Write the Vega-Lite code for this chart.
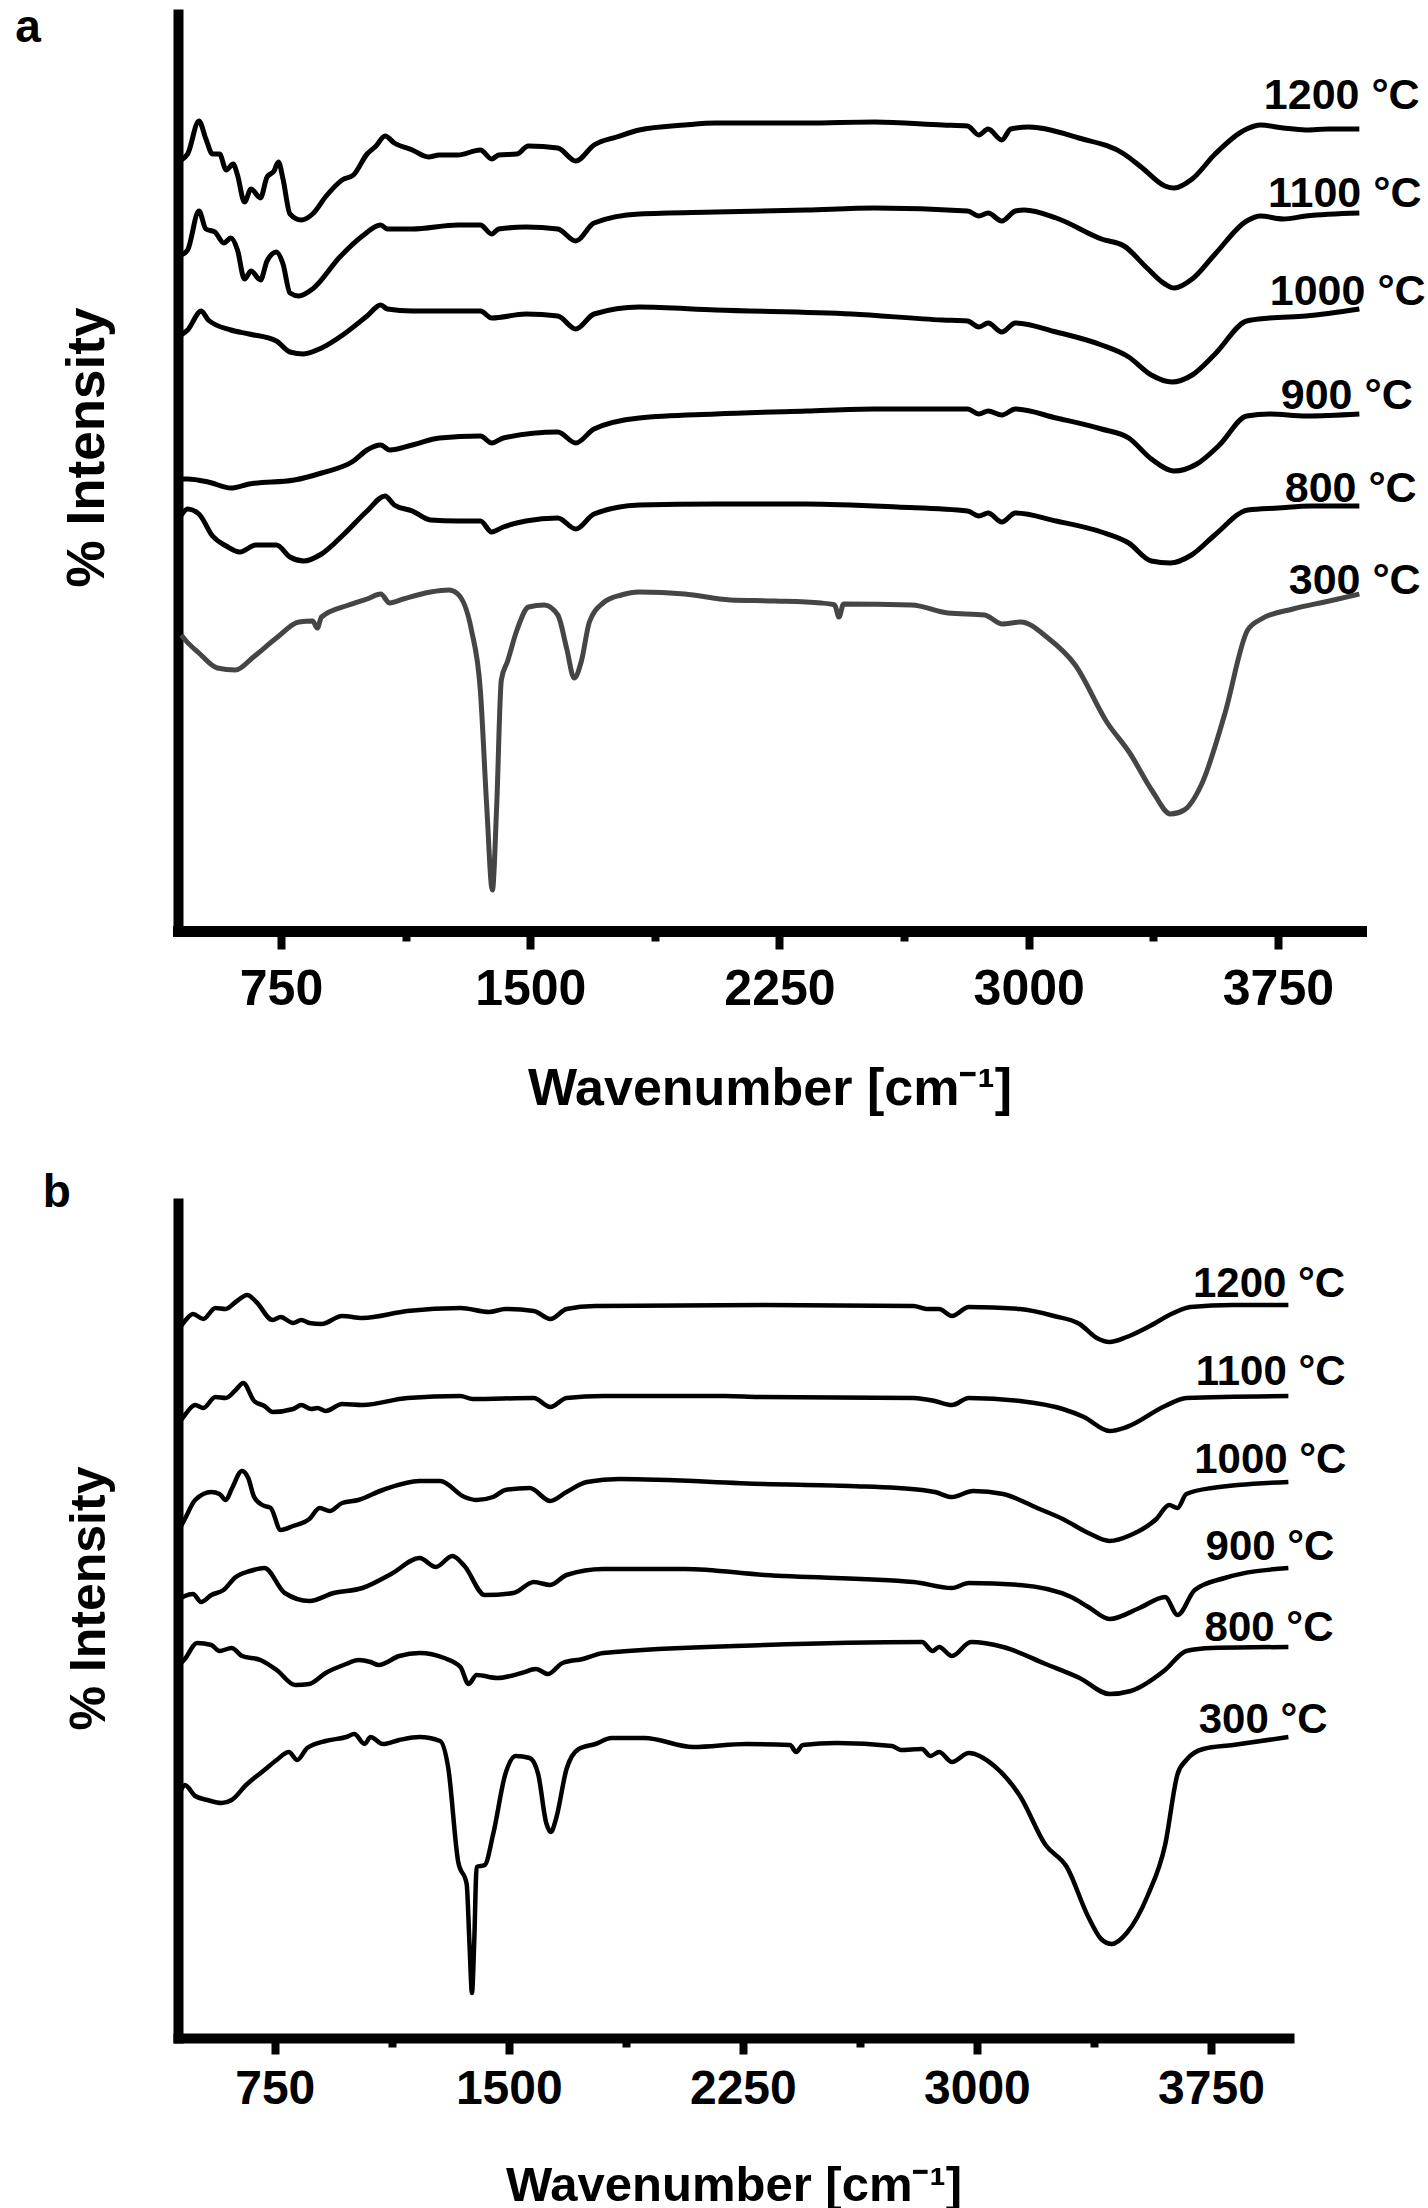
{
  "$schema": "https://vega.github.io/schema/vega-lite/v6.json",
  "description": "FTIR spectra of samples calcined at 300-1200 °C, two panels",
  "padding": {"left": 15, "top": 5, "right": 0, "bottom": 0},
  "spacing": 56,
  "config": {
    "view": {"stroke": null},
    "font": "Liberation Sans",
    "axis": {"grid": false, "domainColor": "black", "tickColor": "black", "labelColor": "black", "titleColor": "black", "labelFontWeight": "bold", "titleFontWeight": "bold", "domainCap": "square"}
  },
  "datasets": {
    "a": [
      {"s":"1200 °C","w":450,"v":760},{"s":"1200 °C","w":469,"v":766},{"s":"1200 °C","w":503,"v":799},{"s":"1200 °C","w":524,"v":781},{"s":"1200 °C","w":544,"v":766},{"s":"1200 °C","w":565,"v":766},{"s":"1200 °C","w":585,"v":750},{"s":"1200 °C","w":606,"v":756},{"s":"1200 °C","w":619,"v":745},{"s":"1200 °C","w":640,"v":718},{"s":"1200 °C","w":660,"v":731},{"s":"1200 °C","w":688,"v":722},{"s":"1200 °C","w":708,"v":743},{"s":"1200 °C","w":729,"v":749},{"s":"1200 °C","w":742,"v":758},{"s":"1200 °C","w":756,"v":741},{"s":"1200 °C","w":777,"v":706},{"s":"1200 °C","w":811,"v":700},{"s":"1200 °C","w":845,"v":706},{"s":"1200 °C","w":886,"v":724},{"s":"1200 °C","w":934,"v":740},{"s":"1200 °C","w":968,"v":745},{"s":"1200 °C","w":1009,"v":766},{"s":"1200 °C","w":1036,"v":774},{"s":"1200 °C","w":1063,"v":784},{"s":"1200 °C","w":1091,"v":777},{"s":"1200 °C","w":1145,"v":770},{"s":"1200 °C","w":1193,"v":763},{"s":"1200 °C","w":1227,"v":765},{"s":"1200 °C","w":1282,"v":765},{"s":"1200 °C","w":1350,"v":770},{"s":"1200 °C","w":1384,"v":761},{"s":"1200 °C","w":1405,"v":765},{"s":"1200 °C","w":1460,"v":766},{"s":"1200 °C","w":1494,"v":774},{"s":"1200 °C","w":1583,"v":772},{"s":"1200 °C","w":1637,"v":759},{"s":"1200 °C","w":1692,"v":775},{"s":"1200 °C","w":1760,"v":783},{"s":"1200 °C","w":1828,"v":790},{"s":"1200 °C","w":1965,"v":795},{"s":"1200 °C","w":2058,"v":797},{"s":"1200 °C","w":2331,"v":797},{"s":"1200 °C","w":2536,"v":798},{"s":"1200 °C","w":2741,"v":795},{"s":"1200 °C","w":2816,"v":794},{"s":"1200 °C","w":2850,"v":785},{"s":"1200 °C","w":2878,"v":791},{"s":"1200 °C","w":2919,"v":780},{"s":"1200 °C","w":2946,"v":791},{"s":"1200 °C","w":3000,"v":793},{"s":"1200 °C","w":3151,"v":782},{"s":"1200 °C","w":3287,"v":766},{"s":"1200 °C","w":3342,"v":752},{"s":"1200 °C","w":3410,"v":734},{"s":"1200 °C","w":3438,"v":732},{"s":"1200 °C","w":3492,"v":741},{"s":"1200 °C","w":3561,"v":766},{"s":"1200 °C","w":3656,"v":791},{"s":"1200 °C","w":3697,"v":795},{"s":"1200 °C","w":3766,"v":792},{"s":"1200 °C","w":3834,"v":790},{"s":"1200 °C","w":3902,"v":791},{"s":"1200 °C","w":3995,"v":791},
      {"s":"1100 °C","w":450,"v":665},{"s":"1100 °C","w":469,"v":670},{"s":"1100 °C","w":503,"v":709},{"s":"1100 °C","w":524,"v":691},{"s":"1100 °C","w":551,"v":688},{"s":"1100 °C","w":578,"v":677},{"s":"1100 °C","w":599,"v":682},{"s":"1100 °C","w":619,"v":670},{"s":"1100 °C","w":640,"v":641},{"s":"1100 °C","w":660,"v":649},{"s":"1100 °C","w":688,"v":640},{"s":"1100 °C","w":708,"v":659},{"s":"1100 °C","w":736,"v":668},{"s":"1100 °C","w":756,"v":656},{"s":"1100 °C","w":777,"v":627},{"s":"1100 °C","w":804,"v":624},{"s":"1100 °C","w":845,"v":631},{"s":"1100 °C","w":927,"v":663},{"s":"1100 °C","w":995,"v":684},{"s":"1100 °C","w":1050,"v":695},{"s":"1100 °C","w":1070,"v":691},{"s":"1100 °C","w":1145,"v":691},{"s":"1100 °C","w":1282,"v":695},{"s":"1100 °C","w":1350,"v":695},{"s":"1100 °C","w":1384,"v":686},{"s":"1100 °C","w":1405,"v":691},{"s":"1100 °C","w":1487,"v":693},{"s":"1100 °C","w":1583,"v":691},{"s":"1100 °C","w":1637,"v":679},{"s":"1100 °C","w":1692,"v":697},{"s":"1100 °C","w":1828,"v":706},{"s":"1100 °C","w":2058,"v":708},{"s":"1100 °C","w":2331,"v":710},{"s":"1100 °C","w":2536,"v":712},{"s":"1100 °C","w":2816,"v":709},{"s":"1100 °C","w":2850,"v":704},{"s":"1100 °C","w":2878,"v":707},{"s":"1100 °C","w":2919,"v":699},{"s":"1100 °C","w":2960,"v":709},{"s":"1100 °C","w":2987,"v":710},{"s":"1100 °C","w":3083,"v":702},{"s":"1100 °C","w":3219,"v":681},{"s":"1100 °C","w":3287,"v":674},{"s":"1100 °C","w":3356,"v":652},{"s":"1100 °C","w":3410,"v":636},{"s":"1100 °C","w":3438,"v":632},{"s":"1100 °C","w":3492,"v":641},{"s":"1100 °C","w":3561,"v":666},{"s":"1100 °C","w":3656,"v":699},{"s":"1100 °C","w":3697,"v":704},{"s":"1100 °C","w":3766,"v":701},{"s":"1100 °C","w":3834,"v":704},{"s":"1100 °C","w":3995,"v":707},
      {"s":"1000 °C","w":450,"v":585},{"s":"1000 °C","w":469,"v":590},{"s":"1000 °C","w":510,"v":609},{"s":"1000 °C","w":531,"v":600},{"s":"1000 °C","w":599,"v":590},{"s":"1000 °C","w":654,"v":586},{"s":"1000 °C","w":736,"v":579},{"s":"1000 °C","w":777,"v":568},{"s":"1000 °C","w":818,"v":566},{"s":"1000 °C","w":872,"v":572},{"s":"1000 °C","w":940,"v":586},{"s":"1000 °C","w":1009,"v":604},{"s":"1000 °C","w":1050,"v":615},{"s":"1000 °C","w":1070,"v":611},{"s":"1000 °C","w":1145,"v":609},{"s":"1000 °C","w":1350,"v":609},{"s":"1000 °C","w":1384,"v":602},{"s":"1000 °C","w":1487,"v":606},{"s":"1000 °C","w":1583,"v":604},{"s":"1000 °C","w":1637,"v":591},{"s":"1000 °C","w":1692,"v":606},{"s":"1000 °C","w":1828,"v":613},{"s":"1000 °C","w":2058,"v":610},{"s":"1000 °C","w":2468,"v":606},{"s":"1000 °C","w":2741,"v":600},{"s":"1000 °C","w":2816,"v":599},{"s":"1000 °C","w":2850,"v":593},{"s":"1000 °C","w":2878,"v":597},{"s":"1000 °C","w":2919,"v":588},{"s":"1000 °C","w":2960,"v":597},{"s":"1000 °C","w":3083,"v":588},{"s":"1000 °C","w":3219,"v":575},{"s":"1000 °C","w":3301,"v":563},{"s":"1000 °C","w":3369,"v":545},{"s":"1000 °C","w":3431,"v":538},{"s":"1000 °C","w":3492,"v":545},{"s":"1000 °C","w":3561,"v":566},{"s":"1000 °C","w":3656,"v":599},{"s":"1000 °C","w":3725,"v":602},{"s":"1000 °C","w":3834,"v":604},{"s":"1000 °C","w":3995,"v":611},
      {"s":"900 °C","w":450,"v":441},{"s":"900 °C","w":469,"v":441},{"s":"900 °C","w":531,"v":438},{"s":"900 °C","w":599,"v":432},{"s":"900 °C","w":654,"v":436},{"s":"900 °C","w":790,"v":440},{"s":"900 °C","w":872,"v":447},{"s":"900 °C","w":968,"v":459},{"s":"900 °C","w":1009,"v":470},{"s":"900 °C","w":1050,"v":475},{"s":"900 °C","w":1077,"v":470},{"s":"900 °C","w":1145,"v":475},{"s":"900 °C","w":1227,"v":482},{"s":"900 °C","w":1350,"v":484},{"s":"900 °C","w":1384,"v":477},{"s":"900 °C","w":1419,"v":482},{"s":"900 °C","w":1583,"v":488},{"s":"900 °C","w":1637,"v":477},{"s":"900 °C","w":1692,"v":491},{"s":"900 °C","w":1828,"v":502},{"s":"900 °C","w":2058,"v":506},{"s":"900 °C","w":2331,"v":509},{"s":"900 °C","w":2536,"v":511},{"s":"900 °C","w":2816,"v":511},{"s":"900 °C","w":2850,"v":506},{"s":"900 °C","w":2878,"v":509},{"s":"900 °C","w":2919,"v":505},{"s":"900 °C","w":2960,"v":511},{"s":"900 °C","w":3083,"v":502},{"s":"900 °C","w":3219,"v":491},{"s":"900 °C","w":3301,"v":482},{"s":"900 °C","w":3369,"v":461},{"s":"900 °C","w":3438,"v":449},{"s":"900 °C","w":3506,"v":456},{"s":"900 °C","w":3574,"v":475},{"s":"900 °C","w":3656,"v":504},{"s":"900 °C","w":3725,"v":506},{"s":"900 °C","w":3834,"v":504},{"s":"900 °C","w":3995,"v":506},
      {"s":"800 °C","w":450,"v":405},{"s":"800 °C","w":469,"v":411},{"s":"800 °C","w":503,"v":406},{"s":"800 °C","w":544,"v":384},{"s":"800 °C","w":585,"v":374},{"s":"800 °C","w":626,"v":368},{"s":"800 °C","w":674,"v":375},{"s":"800 °C","w":736,"v":375},{"s":"800 °C","w":777,"v":363},{"s":"800 °C","w":818,"v":359},{"s":"800 °C","w":872,"v":366},{"s":"800 °C","w":940,"v":386},{"s":"800 °C","w":1009,"v":409},{"s":"800 °C","w":1063,"v":424},{"s":"800 °C","w":1091,"v":415},{"s":"800 °C","w":1145,"v":409},{"s":"800 °C","w":1200,"v":400},{"s":"800 °C","w":1282,"v":399},{"s":"800 °C","w":1350,"v":399},{"s":"800 °C","w":1384,"v":388},{"s":"800 °C","w":1419,"v":393},{"s":"800 °C","w":1487,"v":399},{"s":"800 °C","w":1583,"v":402},{"s":"800 °C","w":1637,"v":391},{"s":"800 °C","w":1692,"v":406},{"s":"800 °C","w":1828,"v":415},{"s":"800 °C","w":2058,"v":416},{"s":"800 °C","w":2331,"v":416},{"s":"800 °C","w":2604,"v":413},{"s":"800 °C","w":2816,"v":409},{"s":"800 °C","w":2850,"v":404},{"s":"800 °C","w":2878,"v":407},{"s":"800 °C","w":2919,"v":398},{"s":"800 °C","w":2960,"v":407},{"s":"800 °C","w":3083,"v":399},{"s":"800 °C","w":3219,"v":388},{"s":"800 °C","w":3301,"v":377},{"s":"800 °C","w":3369,"v":359},{"s":"800 °C","w":3426,"v":357},{"s":"800 °C","w":3490,"v":365},{"s":"800 °C","w":3560,"v":385},{"s":"800 °C","w":3660,"v":410},{"s":"800 °C","w":3750,"v":412},{"s":"800 °C","w":3850,"v":414},{"s":"800 °C","w":3995,"v":414},
      {"s":"300 °C","w":450,"v":285},{"s":"300 °C","w":462,"v":280},{"s":"300 °C","w":503,"v":267},{"s":"300 °C","w":558,"v":252},{"s":"300 °C","w":613,"v":250},{"s":"300 °C","w":667,"v":263},{"s":"300 °C","w":736,"v":282},{"s":"300 °C","w":804,"v":298},{"s":"300 °C","w":845,"v":299},{"s":"300 °C","w":859,"v":292},{"s":"300 °C","w":872,"v":303},{"s":"300 °C","w":954,"v":315},{"s":"300 °C","w":1009,"v":321},{"s":"300 °C","w":1050,"v":326},{"s":"300 °C","w":1077,"v":317},{"s":"300 °C","w":1118,"v":321},{"s":"300 °C","w":1200,"v":328},{"s":"300 °C","w":1255,"v":330},{"s":"300 °C","w":1282,"v":326},{"s":"300 °C","w":1323,"v":290},{"s":"300 °C","w":1350,"v":229},{"s":"300 °C","w":1369,"v":114},{"s":"300 °C","w":1386,"v":30},{"s":"300 °C","w":1399,"v":114},{"s":"300 °C","w":1413,"v":240},{"s":"300 °C","w":1432,"v":259},{"s":"300 °C","w":1460,"v":290},{"s":"300 °C","w":1495,"v":313},{"s":"300 °C","w":1542,"v":315},{"s":"300 °C","w":1583,"v":305},{"s":"300 °C","w":1610,"v":271},{"s":"300 °C","w":1632,"v":242},{"s":"300 °C","w":1654,"v":259},{"s":"300 °C","w":1678,"v":298},{"s":"300 °C","w":1719,"v":317},{"s":"300 °C","w":1774,"v":325},{"s":"300 °C","w":1828,"v":328},{"s":"300 °C","w":1965,"v":326},{"s":"300 °C","w":2102,"v":320},{"s":"300 °C","w":2238,"v":319},{"s":"300 °C","w":2375,"v":317},{"s":"300 °C","w":2416,"v":315},{"s":"300 °C","w":2429,"v":303},{"s":"300 °C","w":2443,"v":316},{"s":"300 °C","w":2648,"v":315},{"s":"300 °C","w":2757,"v":307},{"s":"300 °C","w":2867,"v":305},{"s":"300 °C","w":2921,"v":296},{"s":"300 °C","w":2976,"v":298},{"s":"300 °C","w":3058,"v":282},{"s":"300 °C","w":3140,"v":255},{"s":"300 °C","w":3235,"v":198},{"s":"300 °C","w":3304,"v":167},{"s":"300 °C","w":3372,"v":129},{"s":"300 °C","w":3427,"v":106},{"s":"300 °C","w":3468,"v":110},{"s":"300 °C","w":3522,"v":137},{"s":"300 °C","w":3590,"v":206},{"s":"300 °C","w":3659,"v":290},{"s":"300 °C","w":3700,"v":301},{"s":"300 °C","w":3795,"v":311},{"s":"300 °C","w":3905,"v":319},{"s":"300 °C","w":3995,"v":326}
    ],
    "aLabels": [
      {"s":"1200 °C","w":3942,"v":811},{"s":"1100 °C","w":3951,"v":713},{"s":"1000 °C","w":3960,"v":615},{"s":"900 °C","w":3957,"v":511},{"s":"800 °C","w":3969,"v":418},{"s":"300 °C","w":3981,"v":326}
    ],
    "b": [
      {"s":"1200 °C","w":450,"v":712},{"s":"1200 °C","w":462,"v":717},{"s":"1200 °C","w":488,"v":724},{"s":"1200 °C","w":521,"v":719},{"s":"1200 °C","w":560,"v":730},{"s":"1200 °C","w":593,"v":729},{"s":"1200 °C","w":625,"v":736},{"s":"1200 °C","w":662,"v":743},{"s":"1200 °C","w":691,"v":736},{"s":"1200 °C","w":743,"v":718},{"s":"1200 °C","w":769,"v":721},{"s":"1200 °C","w":809,"v":715},{"s":"1200 °C","w":835,"v":718},{"s":"1200 °C","w":861,"v":715},{"s":"1200 °C","w":900,"v":714},{"s":"1200 °C","w":966,"v":722},{"s":"1200 °C","w":1031,"v":720},{"s":"1200 °C","w":1175,"v":727},{"s":"1200 °C","w":1345,"v":730},{"s":"1200 °C","w":1437,"v":726},{"s":"1200 °C","w":1489,"v":729},{"s":"1200 °C","w":1580,"v":727},{"s":"1200 °C","w":1633,"v":719},{"s":"1200 °C","w":1685,"v":729},{"s":"1200 °C","w":1777,"v":732},{"s":"1200 °C","w":2319,"v":733},{"s":"1200 °C","w":2797,"v":732},{"s":"1200 °C","w":2838,"v":729},{"s":"1200 °C","w":2879,"v":729},{"s":"1200 °C","w":2920,"v":722},{"s":"1200 °C","w":2974,"v":731},{"s":"1200 °C","w":3138,"v":729},{"s":"1200 °C","w":3247,"v":722},{"s":"1200 °C","w":3329,"v":714},{"s":"1200 °C","w":3384,"v":700},{"s":"1200 °C","w":3425,"v":696},{"s":"1200 °C","w":3480,"v":701},{"s":"1200 °C","w":3548,"v":711},{"s":"1200 °C","w":3630,"v":725},{"s":"1200 °C","w":3684,"v":731},{"s":"1200 °C","w":3821,"v":733},{"s":"1200 °C","w":3998,"v":733},
      {"s":"1100 °C","w":450,"v":618},{"s":"1100 °C","w":462,"v":623},{"s":"1100 °C","w":495,"v":633},{"s":"1100 °C","w":521,"v":630},{"s":"1100 °C","w":560,"v":641},{"s":"1100 °C","w":593,"v":640},{"s":"1100 °C","w":625,"v":648},{"s":"1100 °C","w":649,"v":655},{"s":"1100 °C","w":684,"v":637},{"s":"1100 °C","w":717,"v":632},{"s":"1100 °C","w":743,"v":626},{"s":"1100 °C","w":809,"v":629},{"s":"1100 °C","w":835,"v":633},{"s":"1100 °C","w":867,"v":629},{"s":"1100 °C","w":887,"v":630},{"s":"1100 °C","w":913,"v":627},{"s":"1100 °C","w":966,"v":634},{"s":"1100 °C","w":1031,"v":633},{"s":"1100 °C","w":1175,"v":640},{"s":"1100 °C","w":1345,"v":642},{"s":"1100 °C","w":1384,"v":639},{"s":"1100 °C","w":1580,"v":640},{"s":"1100 °C","w":1633,"v":631},{"s":"1100 °C","w":1685,"v":640},{"s":"1100 °C","w":1803,"v":642},{"s":"1100 °C","w":2195,"v":642},{"s":"1100 °C","w":2300,"v":641},{"s":"1100 °C","w":2797,"v":640},{"s":"1100 °C","w":2865,"v":637},{"s":"1100 °C","w":2920,"v":633},{"s":"1100 °C","w":2974,"v":640},{"s":"1100 °C","w":3138,"v":637},{"s":"1100 °C","w":3275,"v":629},{"s":"1100 °C","w":3343,"v":621},{"s":"1100 °C","w":3425,"v":607},{"s":"1100 °C","w":3480,"v":611},{"s":"1100 °C","w":3603,"v":632},{"s":"1100 °C","w":3671,"v":640},{"s":"1100 °C","w":3998,"v":642},
      {"s":"1000 °C","w":450,"v":512},{"s":"1000 °C","w":462,"v":519},{"s":"1000 °C","w":495,"v":538},{"s":"1000 °C","w":547,"v":546},{"s":"1000 °C","w":573,"v":544},{"s":"1000 °C","w":593,"v":538},{"s":"1000 °C","w":612,"v":549},{"s":"1000 °C","w":645,"v":567},{"s":"1000 °C","w":665,"v":560},{"s":"1000 °C","w":684,"v":541},{"s":"1000 °C","w":710,"v":533},{"s":"1000 °C","w":737,"v":530},{"s":"1000 °C","w":769,"v":508},{"s":"1000 °C","w":809,"v":512},{"s":"1000 °C","w":861,"v":519},{"s":"1000 °C","w":894,"v":530},{"s":"1000 °C","w":926,"v":527},{"s":"1000 °C","w":966,"v":535},{"s":"1000 °C","w":1018,"v":538},{"s":"1000 °C","w":1096,"v":548},{"s":"1000 °C","w":1214,"v":557},{"s":"1000 °C","w":1280,"v":557},{"s":"1000 °C","w":1358,"v":541},{"s":"1000 °C","w":1397,"v":538},{"s":"1000 °C","w":1450,"v":541},{"s":"1000 °C","w":1489,"v":548},{"s":"1000 °C","w":1567,"v":550},{"s":"1000 °C","w":1633,"v":537},{"s":"1000 °C","w":1685,"v":546},{"s":"1000 °C","w":1750,"v":556},{"s":"1000 °C","w":1855,"v":559},{"s":"1000 °C","w":2319,"v":554},{"s":"1000 °C","w":2592,"v":552},{"s":"1000 °C","w":2824,"v":548},{"s":"1000 °C","w":2865,"v":546},{"s":"1000 °C","w":2920,"v":541},{"s":"1000 °C","w":2988,"v":547},{"s":"1000 °C","w":3084,"v":544},{"s":"1000 °C","w":3193,"v":530},{"s":"1000 °C","w":3275,"v":519},{"s":"1000 °C","w":3357,"v":505},{"s":"1000 °C","w":3425,"v":497},{"s":"1000 °C","w":3493,"v":503},{"s":"1000 °C","w":3575,"v":519},{"s":"1000 °C","w":3616,"v":533},{"s":"1000 °C","w":3643,"v":530},{"s":"1000 °C","w":3671,"v":544},{"s":"1000 °C","w":3753,"v":550},{"s":"1000 °C","w":3998,"v":556},
      {"s":"900 °C","w":450,"v":440},{"s":"900 °C","w":462,"v":442},{"s":"900 °C","w":488,"v":444},{"s":"900 °C","w":514,"v":436},{"s":"900 °C","w":547,"v":443},{"s":"900 °C","w":586,"v":448},{"s":"900 °C","w":625,"v":461},{"s":"900 °C","w":671,"v":467},{"s":"900 °C","w":717,"v":470},{"s":"900 °C","w":782,"v":445},{"s":"900 °C","w":861,"v":437},{"s":"900 °C","w":939,"v":445},{"s":"900 °C","w":1031,"v":450},{"s":"900 °C","w":1123,"v":464},{"s":"900 °C","w":1214,"v":480},{"s":"900 °C","w":1266,"v":471},{"s":"900 °C","w":1319,"v":482},{"s":"900 °C","w":1358,"v":472},{"s":"900 °C","w":1423,"v":443},{"s":"900 °C","w":1515,"v":445},{"s":"900 °C","w":1580,"v":456},{"s":"900 °C","w":1633,"v":453},{"s":"900 °C","w":1685,"v":463},{"s":"900 °C","w":1803,"v":469},{"s":"900 °C","w":2064,"v":469},{"s":"900 °C","w":2319,"v":463},{"s":"900 °C","w":2797,"v":456},{"s":"900 °C","w":2920,"v":450},{"s":"900 °C","w":2974,"v":455},{"s":"900 °C","w":3138,"v":453},{"s":"900 °C","w":3302,"v":441},{"s":"900 °C","w":3357,"v":431},{"s":"900 °C","w":3425,"v":419},{"s":"900 °C","w":3521,"v":430},{"s":"900 °C","w":3603,"v":441},{"s":"900 °C","w":3643,"v":423},{"s":"900 °C","w":3698,"v":448},{"s":"900 °C","w":3794,"v":460},{"s":"900 °C","w":3998,"v":470},
      {"s":"800 °C","w":450,"v":375},{"s":"800 °C","w":462,"v":379},{"s":"800 °C","w":501,"v":395},{"s":"800 °C","w":547,"v":393},{"s":"800 °C","w":573,"v":387},{"s":"800 °C","w":612,"v":390},{"s":"800 °C","w":645,"v":382},{"s":"800 °C","w":704,"v":378},{"s":"800 °C","w":756,"v":368},{"s":"800 °C","w":815,"v":353},{"s":"800 °C","w":861,"v":354},{"s":"800 °C","w":913,"v":365},{"s":"800 °C","w":979,"v":374},{"s":"800 °C","w":1018,"v":378},{"s":"800 °C","w":1057,"v":376},{"s":"800 °C","w":1083,"v":373},{"s":"800 °C","w":1149,"v":382},{"s":"800 °C","w":1214,"v":385},{"s":"800 °C","w":1293,"v":380},{"s":"800 °C","w":1345,"v":371},{"s":"800 °C","w":1371,"v":354},{"s":"800 °C","w":1397,"v":363},{"s":"800 °C","w":1463,"v":360},{"s":"800 °C","w":1541,"v":365},{"s":"800 °C","w":1587,"v":369},{"s":"800 °C","w":1626,"v":364},{"s":"800 °C","w":1672,"v":375},{"s":"800 °C","w":1737,"v":379},{"s":"800 °C","w":1803,"v":385},{"s":"800 °C","w":2319,"v":393},{"s":"800 °C","w":2824,"v":396},{"s":"800 °C","w":2858,"v":387},{"s":"800 °C","w":2879,"v":391},{"s":"800 °C","w":2920,"v":382},{"s":"800 °C","w":2981,"v":396},{"s":"800 °C","w":3084,"v":391},{"s":"800 °C","w":3220,"v":374},{"s":"800 °C","w":3329,"v":360},{"s":"800 °C","w":3425,"v":344},{"s":"800 °C","w":3493,"v":347},{"s":"800 °C","w":3603,"v":368},{"s":"800 °C","w":3671,"v":387},{"s":"800 °C","w":3753,"v":390},{"s":"800 °C","w":3998,"v":391},
      {"s":"300 °C","w":450,"v":248},{"s":"300 °C","w":462,"v":253},{"s":"300 °C","w":495,"v":242},{"s":"300 °C","w":534,"v":238},{"s":"300 °C","w":580,"v":235},{"s":"300 °C","w":612,"v":238},{"s":"300 °C","w":658,"v":253},{"s":"300 °C","w":717,"v":268},{"s":"300 °C","w":756,"v":278},{"s":"300 °C","w":795,"v":286},{"s":"300 °C","w":822,"v":278},{"s":"300 °C","w":854,"v":290},{"s":"300 °C","w":913,"v":297},{"s":"300 °C","w":979,"v":301},{"s":"300 °C","w":1005,"v":304},{"s":"300 °C","w":1038,"v":294},{"s":"300 °C","w":1057,"v":301},{"s":"300 °C","w":1096,"v":294},{"s":"300 °C","w":1149,"v":298},{"s":"300 °C","w":1214,"v":301},{"s":"300 °C","w":1280,"v":297},{"s":"300 °C","w":1306,"v":270},{"s":"300 °C","w":1338,"v":176},{"s":"300 °C","w":1365,"v":154},{"s":"300 °C","w":1374,"v":94},{"s":"300 °C","w":1382,"v":45},{"s":"300 °C","w":1389,"v":94},{"s":"300 °C","w":1397,"v":171},{"s":"300 °C","w":1423,"v":173},{"s":"300 °C","w":1450,"v":204},{"s":"300 °C","w":1489,"v":264},{"s":"300 °C","w":1522,"v":282},{"s":"300 °C","w":1567,"v":280},{"s":"300 °C","w":1594,"v":264},{"s":"300 °C","w":1620,"v":215},{"s":"300 °C","w":1635,"v":206},{"s":"300 °C","w":1652,"v":220},{"s":"300 °C","w":1685,"v":269},{"s":"300 °C","w":1724,"v":289},{"s":"300 °C","w":1777,"v":294},{"s":"300 °C","w":1829,"v":300},{"s":"300 °C","w":1934,"v":300},{"s":"300 °C","w":2091,"v":291},{"s":"300 °C","w":2261,"v":294},{"s":"300 °C","w":2401,"v":293},{"s":"300 °C","w":2421,"v":286},{"s":"300 °C","w":2442,"v":293},{"s":"300 °C","w":2551,"v":295},{"s":"300 °C","w":2728,"v":292},{"s":"300 °C","w":2756,"v":288},{"s":"300 °C","w":2824,"v":289},{"s":"300 °C","w":2851,"v":282},{"s":"300 °C","w":2879,"v":286},{"s":"300 °C","w":2920,"v":276},{"s":"300 °C","w":2974,"v":285},{"s":"300 °C","w":3056,"v":272},{"s":"300 °C","w":3138,"v":242},{"s":"300 °C","w":3220,"v":193},{"s":"300 °C","w":3288,"v":171},{"s":"300 °C","w":3357,"v":121},{"s":"300 °C","w":3398,"v":99},{"s":"300 °C","w":3432,"v":94},{"s":"300 °C","w":3480,"v":105},{"s":"300 °C","w":3548,"v":143},{"s":"300 °C","w":3603,"v":193},{"s":"300 °C","w":3643,"v":264},{"s":"300 °C","w":3671,"v":278},{"s":"300 °C","w":3725,"v":289},{"s":"300 °C","w":3821,"v":293},{"s":"300 °C","w":3998,"v":301}
    ],
    "bLabels": [
      {"s":"1200 °C","w":3936,"v":741},{"s":"1100 °C","w":3941,"v":653},{"s":"1000 °C","w":3940,"v":565},{"s":"900 °C","w":3939,"v":478},{"s":"800 °C","w":3936,"v":397},{"s":"300 °C","w":3917,"v":305}
    ]
  },
  "vconcat": [
    {
      "width": 1183,
      "height": 917,
      "layer": [
        {
          "data": {"name": "a"},
          "mark": {"type": "line", "interpolate": "monotone"},
          "encoding": {
            "x": {"field": "w", "type": "quantitative",
              "scale": {"domain": [440, 4000], "nice": false, "zero": false},
              "axis": {"values": [750, 1125, 1500, 1875, 2250, 2625, 3000, 3375, 3750], "format": "d",
                "labelExpr": "datum.value % 750 === 0 ? datum.label : ''",
                "domainWidth": 11, "tickWidth": 8,
                "tickSize": {"condition": {"test": "datum.value % 750 === 0", "value": 18}, "value": 10},
                "labelFontSize": 50, "labelPadding": 15,
                "title": "Wavenumber [cm⁻¹]", "titleFontSize": 52, "titleY": 173, "titleBaseline": "alphabetic"}},
            "y": {"field": "v", "type": "quantitative",
              "scale": {"domain": [-11, 906], "nice": false, "zero": false},
              "axis": {"ticks": false, "labels": false, "domainWidth": 10,
                "title": "% Intensity", "titleFontSize": 53, "titleAngle": 270, "titleAlign": "center", "titleBaseline": "middle", "titleX": -91, "titleY": 433}},
            "color": {"field": "s", "type": "nominal", "legend": null,
              "scale": {"domain": ["1200 °C", "1100 °C", "1000 °C", "900 °C", "800 °C", "300 °C"], "range": ["#000000", "#000000", "#000000", "#000000", "#000000", "#454545"]}},
            "strokeWidth": {"field": "s", "type": "ordinal", "legend": null,
              "scale": {"domain": ["1200 °C", "1100 °C", "1000 °C", "900 °C", "800 °C", "300 °C"], "range": [5, 5, 5, 5, 5, 3.5]}}
          }
        },
        {
          "data": {"name": "aLabels"},
          "mark": {"type": "text", "fontSize": 43, "fontWeight": "bold", "color": "black", "align": "center", "baseline": "alphabetic"},
          "encoding": {
            "x": {"field": "w", "type": "quantitative"},
            "y": {"field": "v", "type": "quantitative"},
            "text": {"field": "s", "type": "nominal"}
          }
        },
        {
          "data": {"values": [{"tag": "a", "w": -50, "v": 878}]},
          "mark": {"type": "text", "fontSize": 46, "fontWeight": "bold", "color": "black", "align": "left", "baseline": "alphabetic"},
          "encoding": {
            "x": {"field": "w", "type": "quantitative"},
            "y": {"field": "v", "type": "quantitative"},
            "text": {"field": "tag", "type": "nominal"}
          }
        }
      ]
    },
    {
      "width": 1111,
      "height": 835,
      "layer": [
        {
          "data": {"name": "b"},
          "mark": {"type": "line", "interpolate": "monotone", "color": "black", "strokeWidth": 4.5},
          "encoding": {
            "x": {"field": "w", "type": "quantitative",
              "scale": {"domain": [440, 4000], "nice": false, "zero": false},
              "axis": {"values": [750, 1125, 1500, 1875, 2250, 2625, 3000, 3375, 3750], "format": "d",
                "labelExpr": "datum.value % 750 === 0 ? datum.label : ''",
                "domainWidth": 10, "tickWidth": 8,
                "tickSize": {"condition": {"test": "datum.value % 750 === 0", "value": 16}, "value": 9},
                "labelFontSize": 48, "labelPadding": 11,
                "title": "Wavenumber [cm⁻¹]", "titleFontSize": 49, "titleY": 162, "titleBaseline": "alphabetic"}},
            "y": {"field": "v", "type": "quantitative",
              "scale": {"domain": [0, 835], "nice": false, "zero": false},
              "axis": {"ticks": false, "labels": false, "domainWidth": 10,
                "title": "% Intensity", "titleFontSize": 50, "titleAngle": 270, "titleAlign": "center", "titleBaseline": "middle", "titleX": -89, "titleY": 395}},
            "detail": {"field": "s", "type": "nominal"}
          }
        },
        {
          "data": {"name": "bLabels"},
          "mark": {"type": "text", "fontSize": 42, "fontWeight": "bold", "color": "black", "align": "center", "baseline": "alphabetic"},
          "encoding": {
            "x": {"field": "w", "type": "quantitative"},
            "y": {"field": "v", "type": "quantitative"},
            "text": {"field": "s", "type": "nominal"}
          }
        },
        {
          "data": {"values": [{"tag": "b", "w": 7, "v": 831}]},
          "mark": {"type": "text", "fontSize": 46, "fontWeight": "bold", "color": "black", "align": "left", "baseline": "alphabetic"},
          "encoding": {
            "x": {"field": "w", "type": "quantitative"},
            "y": {"field": "v", "type": "quantitative"},
            "text": {"field": "tag", "type": "nominal"}
          }
        }
      ]
    }
  ]
}
